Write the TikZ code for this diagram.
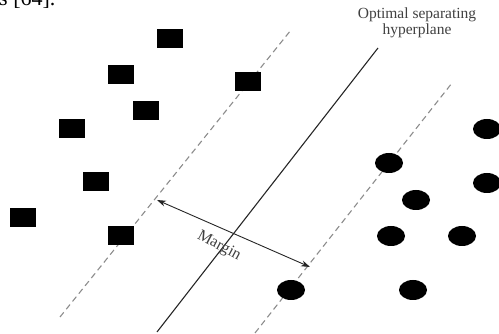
\documentclass[tikz,border=0pt]{standalone}
\usepackage{fontspec}
\newfontfamily\timesfont{Liberation Serif}
\usetikzlibrary{arrows.meta}
\begin{document}
\begin{tikzpicture}[x=1pt,y=1pt,
  sq/.style={fill=black,minimum width=26pt,minimum height=19pt,inner sep=0pt,draw=none},
  sep/.style={line width=1.1pt,black!85},
  marg/.style={dashed,dash pattern=on 6pt off 4pt,line width=1.1pt,black!45},
  lab/.style={text=black!75,align=center,inner sep=0pt}]
\useasboundingbox (0,0) rectangle (499,334);
\clip (0,0) rectangle (499,334);
% cropped caption fragment
\node[anchor=base west,inner sep=0pt,font=\timesfont\fontsize{22}{24}\selectfont] (frag) at (-1,328) {s [64].};
% lines
\coordinate (s1) at (157,2);
\coordinate (s2) at (378,286);
\coordinate (l1) at (60,17);
\coordinate (l2) at (291,304);
\coordinate (r1) at (255,1);
\coordinate (r2) at (452,251);
\draw[marg] (l1) -- (l2);
\draw[marg] (r1) -- (r2);
\draw[sep] (s1) -- (s2);
% squares
\foreach \n/\x/\y in {a/170/39,b/121/75,c/146/111,d/72/129,e/248/82,f/96/182,g/23/218,h/121/236}
  \node[sq] (\n) at (\x,334-\y) {};
% circles
\foreach \n/\x/\y in {p/487/129,q/389/163,r/416/200,s/487/183,t/391/236,u/462/236,v/291/290,w/413/290}
  \fill (\x,334-\y) ellipse [x radius=14pt,y radius=10pt];
% margin arrow
\coordinate (m1) at (157,134);
\coordinate (m2) at (310,67);
\draw[{Stealth[length=9pt,width=6pt]}-{Stealth[length=9pt,width=6pt]},line width=0.9pt,black!85] (m1) -- (m2);
\node[lab,rotate=-28,font=\timesfont\fontsize{16}{17}\selectfont] (mlab) at (219,88) {Margin};
% title
\node[lab,font=\timesfont\fontsize{15.5}{16}\selectfont] (title) at (417,311) {Optimal separating\\hyperplane};
\end{tikzpicture}
\end{document}
